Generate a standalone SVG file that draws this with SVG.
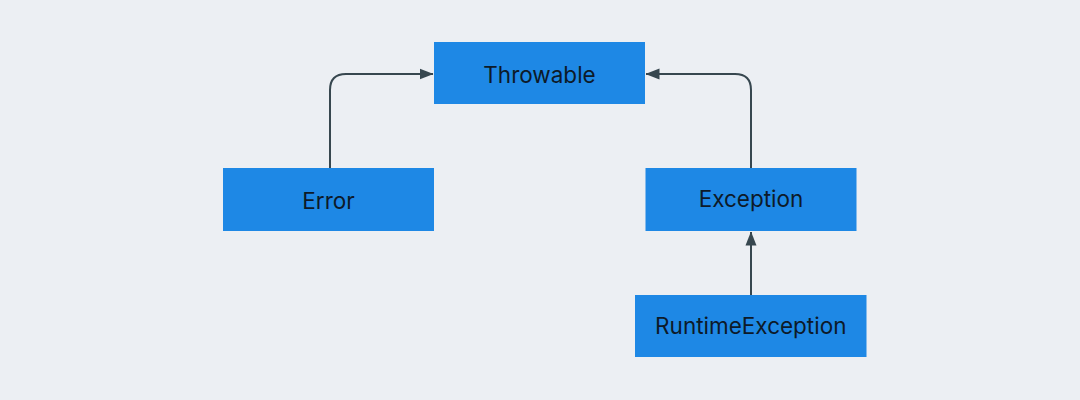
<svg xmlns="http://www.w3.org/2000/svg" width="1080" height="400" viewBox="0 0 1080 400">
  <style>
    .node rect { fill: #1e88e5; }
    .node text { font-family: Inter, Roboto, "Liberation Sans", sans-serif; font-size: 22.5px; fill: #0d1a29; text-anchor: middle; dominant-baseline: central; }
    .edge { fill: none; stroke: #37474f; stroke-width: 2; }
  </style>
  <defs>
    <marker id="arrow" viewBox="0 0 14 12" refX="13.5" refY="6" markerWidth="14" markerHeight="12" markerUnits="userSpaceOnUse" orient="auto">
      <path d="M0,0.5 L14,6 L0,11.5 Z" fill="#37474f"/>
    </marker>
  </defs>
  <rect width="1080" height="400" fill="#eceff3"/>
  <g id="connectors">
    <path class="edge" d="M330,168 V90 Q330,74 346,74 H433" marker-end="url(#arrow)"/>
    <path class="edge" d="M751,168 V90 Q751,74 735,74 H646" marker-end="url(#arrow)"/>
    <path class="edge" d="M751,295 V232" marker-end="url(#arrow)"/>
  </g>
  <g id="node-throwable" class="node">
    <rect x="434" y="42" width="211" height="62"/>
    <text x="539.5" y="74.5">Throwable</text>
  </g>
  <g id="node-error" class="node">
    <rect x="223" y="168" width="211" height="63"/>
    <text x="328.5" y="200.5">Error</text>
  </g>
  <g id="node-exception" class="node">
    <rect x="645.5" y="168" width="211" height="63"/>
    <text x="751" y="198.5">Exception</text>
  </g>
  <g id="node-runtimeexception" class="node">
    <rect x="635" y="295" width="231.5" height="62"/>
    <text x="750.8" y="325.5">RuntimeException</text>
  </g>
</svg>
